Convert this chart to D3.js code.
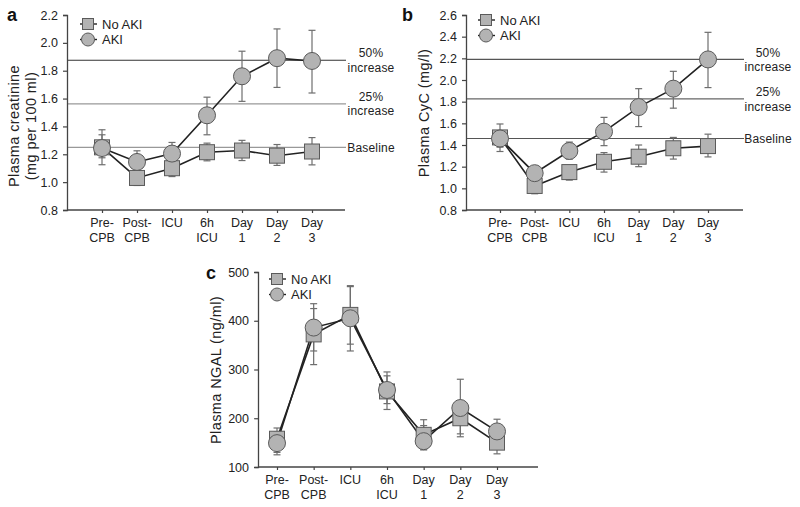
<!DOCTYPE html>
<html>
<head>
<meta charset="utf-8">
<script src="https://cdn.jsdelivr.net/npm/d3@7"></script>
<style>
  html, body { margin: 0; padding: 0; background: #fff; }
  svg { display: block; font-family: "Liberation Sans", Arial, sans-serif; }
</style>
</head>
<body>
<svg id="chart" width="800" height="507"></svg>
<script>
// ---------- data ----------
const categories = ["Pre-CPB", "Post-CPB", "ICU", "6h ICU", "Day 1", "Day 2", "Day 3"];
const categoryLines = [["Pre-", "CPB"], ["Post-", "CPB"], ["ICU", ""], ["6h", "ICU"], ["Day", "1"], ["Day", "2"], ["Day", "3"]];
const seriesNames = ["No AKI", "AKI"];

// Panel a: plasma creatinine (mg per 100 ml)
const creatNoAKI   = [1.25, 1.03, 1.10, 1.215, 1.227, 1.19, 1.22];
const creatNoAKIHi = [1.34, 1.09, 1.15, 1.28, 1.30, 1.27, 1.32];
const creatNoAKILo = [1.175, 0.976, 1.04, 1.153, 1.155, 1.12, 1.124];
const creatAKI     = [1.245, 1.145, 1.205, 1.48, 1.76, 1.89, 1.87];
const creatAKIHi   = [1.376, 1.225, 1.285, 1.61, 1.94, 2.10, 2.09];
const creatAKILo   = [1.125, 1.07, 1.13, 1.34, 1.58, 1.68, 1.64];
const creatTicks   = [0.8, 1.0, 1.2, 1.4, 1.6, 1.8, 2.0, 2.2];
const creatRefValues = [1.875, 1.5625, 1.25];
const creatRefLabels = [["50%", "increase"], ["25%", "increase"], ["Baseline"]];

// Panel b: plasma CyC (mg/l)
const cycNoAKI   = [1.47, 1.022, 1.15, 1.245, 1.292, 1.37, 1.39];
const cycNoAKIHi = [1.52, 1.08, 1.21, 1.33, 1.40, 1.47, 1.50];
const cycNoAKILo = [1.38, 0.95, 1.076, 1.15, 1.20, 1.27, 1.29];
const cycAKI     = [1.46, 1.14, 1.345, 1.523, 1.75, 1.92, 2.19];
const cycAKIHi   = [1.594, 1.20, 1.427, 1.655, 1.92, 2.08, 2.44];
const cycAKILo   = [1.34, 1.08, 1.27, 1.394, 1.57, 1.74, 1.93];
const cycTicks   = [0.8, 1.0, 1.2, 1.4, 1.6, 1.8, 2.0, 2.2, 2.4, 2.6];
const cycRefValues = [2.19, 1.825, 1.46];
const cycRefLabels = [["50%", "increase"], ["25%", "increase"], ["Baseline"]];

// Panel c: plasma NGAL (ng/ml)
const ngalNoAKI   = [158, 372, 412, 255, 166, 200, 150];
const ngalNoAKIHi = [180, 425, 470, 287, 185, 232, 165];
const ngalNoAKILo = [130, 310, 352, 218, 135, 162, 127];
const ngalAKI     = [149, 386, 405, 258, 153, 221, 173];
const ngalAKIHi   = [172, 435, 472, 295, 197, 280, 198];
const ngalAKILo   = [125, 338, 338, 230, 137, 168, 150];
const ngalTicks   = [100, 200, 300, 400, 500];

// ---------- drawing ----------
const svg = d3.select("#chart");
const TEXT = "#222";
const MARK_FILL = "#b3b3b3";
const MARK_STROKE = "#5a5a5a";
const LINE = "#222";
const ERR = "#6e6e6e";
const FONT = "'Liberation Sans', Arial, sans-serif";

function drawPanel(p) {
  const g = svg.append("g");
  const x = d3.scalePoint().domain(categories).range([p.xFirst, p.xLast]);
  const y = d3.scaleLinear().domain(p.yDomain).range([p.yBottom, p.yTop]);

  // reference lines
  (p.refValues || []).forEach((v, i) => {
    g.append("line")
      .attr("x1", p.xAxisStart).attr("x2", p.refEnd)
      .attr("y1", y(v)).attr("y2", y(v))
      .attr("stroke", p.refColors[i]).attr("stroke-width", 1.2);
    const lab = p.refLabels[i];
    const mk = (yy, s) => g.append("text").attr("x", p.refLabelX).attr("y", yy).attr("dy", "0.35em")
        .attr("text-anchor", "middle").attr("font-size", 12).attr("letter-spacing", 0.2)
        .attr("fill", TEXT).text(s);
    if (lab.length === 2) {
      mk(y(v) - 7, lab[0]);
      mk(y(v) + 7.5, lab[1]);
    } else {
      mk(y(v), lab[0]);
    }
  });

  // y axis
  const yAxis = d3.axisLeft(y).tickValues(p.yTicks).tickFormat(p.yFormat).tickSize(4).tickPadding(5);
  const ya = g.append("g").attr("transform", `translate(${p.xAxisStart},0)`).call(yAxis);
  ya.select(".domain").attr("stroke", "#444").attr("stroke-width", 1.3);
  ya.selectAll(".tick line").attr("stroke", "#444").attr("stroke-width", 1.2);
  ya.selectAll(".tick text").attr("font-size", 12.5).attr("fill", TEXT).attr("font-family", FONT);

  // x axis
  const xAxis = d3.axisBottom(x).tickSize(3).tickFormat("");
  const xa = g.append("g").attr("transform", `translate(0,${p.yBottom})`).call(xAxis);
  xa.select(".domain").remove();
  xa.selectAll(".tick line").attr("stroke", "#444").attr("stroke-width", 1.2);
  xa.append("line").attr("x1", p.xAxisStart).attr("x2", p.xAxisEnd)
    .attr("y1", 0).attr("y2", 0).attr("stroke", "#444").attr("stroke-width", 1.3);
  categories.forEach((c, i) => {
    const t = xa.append("text").attr("text-anchor", "middle").attr("font-size", 12.5)
      .attr("fill", TEXT).attr("font-family", FONT);
    t.append("tspan").attr("x", x(c)).attr("y", 17).text(categoryLines[i][0]);
    if (categoryLines[i][1]) t.append("tspan").attr("x", x(c)).attr("y", 32).text(categoryLines[i][1]);
  });

  // y title
  const tt = g.append("text").attr("transform", `translate(${p.titleX},${p.titleY}) rotate(-90)`)
    .attr("text-anchor", "middle").attr("font-size", 14.5).attr("letter-spacing", 0.4).attr("fill", TEXT);
  p.title.forEach((line, i) => {
    tt.append("tspan").attr("x", 0).attr("y", i * 17).text(line);
  });

  // panel letter
  g.append("text").attr("x", p.letterX).attr("y", p.letterY).attr("font-size", 18)
    .attr("font-weight", "bold").attr("fill", "#111").text(p.letter);

  // error bars
  const series = [
    { v: p.noAki, hi: p.noAkiHi, lo: p.noAkiLo, shape: "square" },
    { v: p.aki, hi: p.akiHi, lo: p.akiLo, shape: "circle" }
  ];
  series.forEach(s => {
    categories.forEach((c, i) => {
      const cx = x(c);
      g.append("line").attr("x1", cx).attr("x2", cx).attr("y1", y(s.hi[i])).attr("y2", y(s.lo[i]))
        .attr("stroke", ERR).attr("stroke-width", 1.2);
      [s.hi[i], s.lo[i]].forEach(v => {
        g.append("line").attr("x1", cx - 3.5).attr("x2", cx + 3.5).attr("y1", y(v)).attr("y2", y(v))
          .attr("stroke", ERR).attr("stroke-width", 1.2);
      });
    });
  });
  // lines
  const lineGen = d3.line().x((d, i) => x(categories[i])).y(d => y(d));
  series.forEach(s => {
    g.append("path").datum(s.v).attr("d", lineGen).attr("fill", "none")
      .attr("stroke", LINE).attr("stroke-width", 1.6);
  });
  // markers
  series.forEach(s => {
    categories.forEach((c, i) => {
      if (s.shape === "square") {
        g.append("rect").attr("x", x(c) - 7.5).attr("y", y(s.v[i]) - 7.5)
          .attr("width", 15).attr("height", 15)
          .attr("fill", MARK_FILL).attr("stroke", MARK_STROKE).attr("stroke-width", 1);
      } else {
        g.append("circle").attr("cx", x(c)).attr("cy", y(s.v[i])).attr("r", 8.5)
          .attr("fill", MARK_FILL).attr("stroke", MARK_STROKE).attr("stroke-width", 1);
      }
    });
  });

  // legend
  seriesNames.forEach((name, i) => {
    const ly = p.legendY + i * 15.5;
    const lx = p.legendX;
    g.append("line").attr("x1", lx - 8).attr("x2", lx + 9).attr("y1", ly).attr("y2", ly)
      .attr("stroke", LINE).attr("stroke-width", 1.4);
    if (i === 0) {
      g.append("rect").attr("x", lx - 5.5).attr("y", ly - 5.5).attr("width", 11).attr("height", 11)
        .attr("fill", MARK_FILL).attr("stroke", MARK_STROKE);
    } else {
      g.append("circle").attr("cx", lx).attr("cy", ly).attr("r", 6.5)
        .attr("fill", MARK_FILL).attr("stroke", MARK_STROKE);
    }
    g.append("text").attr("x", lx + 14).attr("y", ly).attr("dy", "0.35em")
      .attr("font-size", 13).attr("fill", TEXT).text(name);
  });
}

drawPanel({
  letter: "a", letterX: 7, letterY: 21,
  xFirst: 102, xLast: 312, xAxisStart: 67, xAxisEnd: 345,
  yDomain: [0.8, 2.2], yTop: 15, yBottom: 210, yTicks: creatTicks, yFormat: d3.format(".1f"),
  noAki: creatNoAKI, noAkiHi: creatNoAKIHi, noAkiLo: creatNoAKILo,
  aki: creatAKI, akiHi: creatAKIHi, akiLo: creatAKILo,
  refValues: creatRefValues, refLabels: creatRefLabels, refColors: ["#333", "#999", "#999"],
  refEnd: 346, refLabelX: 371,
  title: ["Plasma creatinine", "(mg per 100 ml)"], titleX: 19, titleY: 126,
  legendX: 88, legendY: 24
});

drawPanel({
  letter: "b", letterX: 402, letterY: 21,
  xFirst: 500, xLast: 708, xAxisStart: 466, xAxisEnd: 743,
  yDomain: [0.8, 2.6], yTop: 15, yBottom: 210, yTicks: cycTicks, yFormat: d3.format(".1f"),
  noAki: cycNoAKI, noAkiHi: cycNoAKIHi, noAkiLo: cycNoAKILo,
  aki: cycAKI, akiHi: cycAKIHi, akiLo: cycAKILo,
  refValues: cycRefValues, refLabels: cycRefLabels, refColors: ["#555", "#666", "#555"],
  refEnd: 744, refLabelX: 768,
  title: ["Plasma CyC (mg/l)"], titleX: 429, titleY: 113,
  legendX: 486, legendY: 20
});

drawPanel({
  letter: "c", letterX: 206, letterY: 279,
  xFirst: 277, xLast: 497, xAxisStart: 258, xAxisEnd: 538,
  yDomain: [100, 500], yTop: 272, yBottom: 467, yTicks: ngalTicks, yFormat: d3.format("d"),
  noAki: ngalNoAKI, noAkiHi: ngalNoAKIHi, noAkiLo: ngalNoAKILo,
  aki: ngalAKI, akiHi: ngalAKIHi, akiLo: ngalAKILo,
  refValues: [], refLabels: [], refColors: [],
  title: ["Plasma NGAL (ng/ml)"], titleX: 221, titleY: 370,
  legendX: 277, legendY: 279
});
</script>
</body>
</html>
